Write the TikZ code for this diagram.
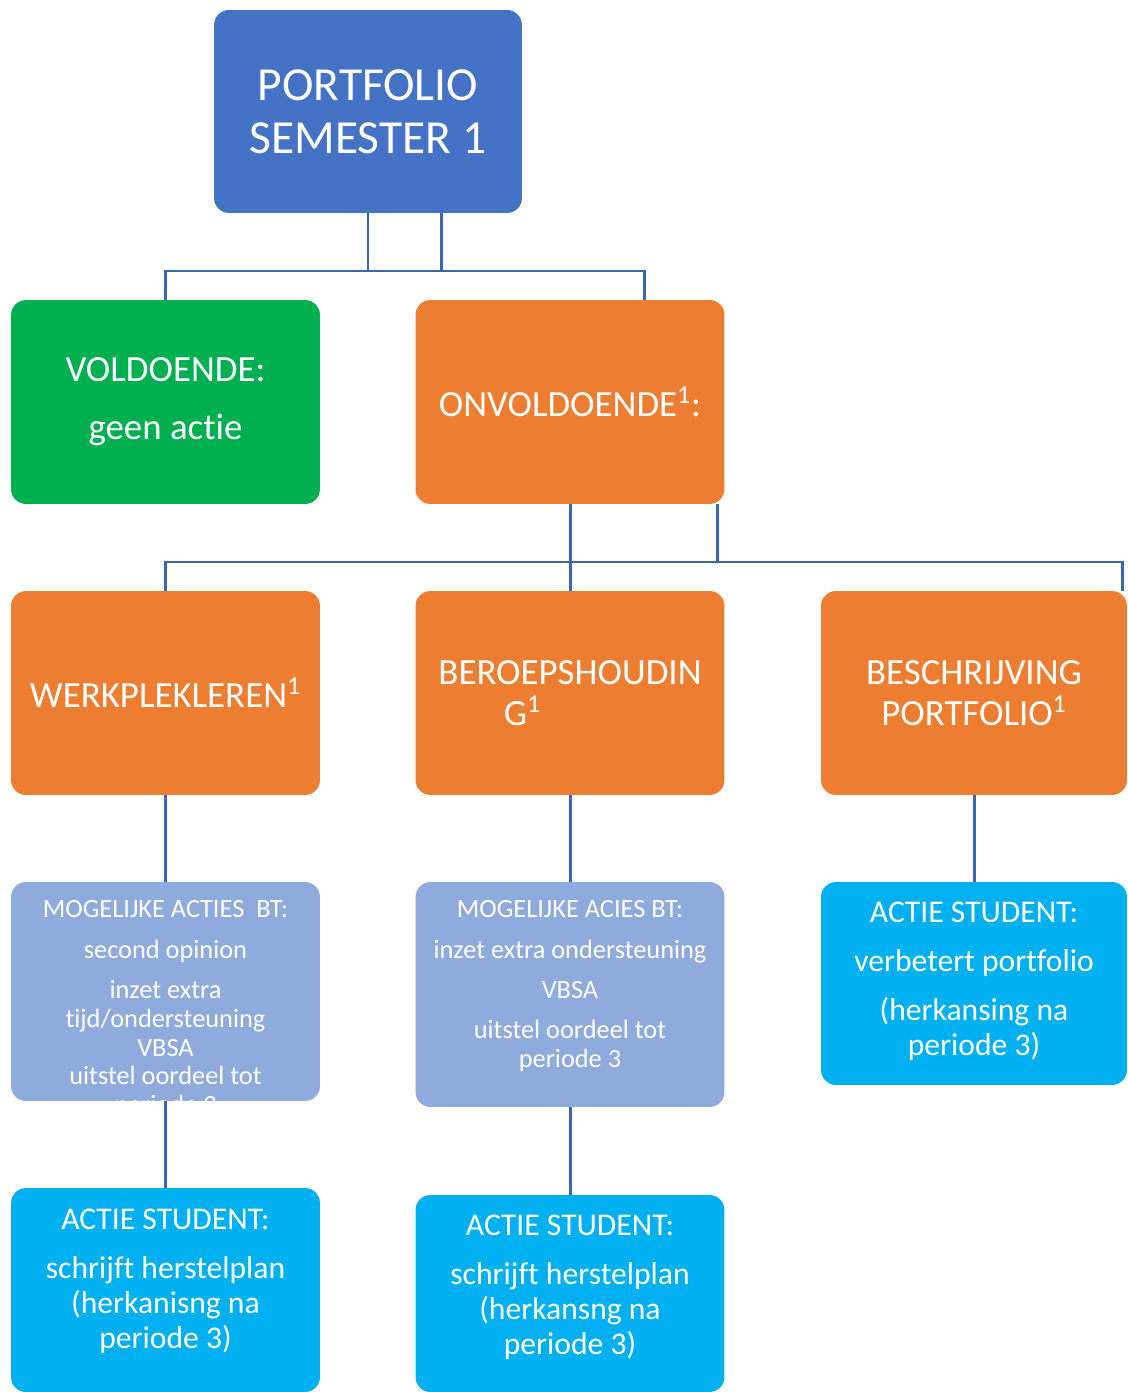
\documentclass[tikz,border=0pt]{standalone}
\usepackage{fontspec}
\setmainfont{Carlito}[Ligatures=NoCommon]

\definecolor{boxblue}{HTML}{4472C4}
\definecolor{boxgreen}{HTML}{00B050}
\definecolor{boxorange}{HTML}{ED7D31}
\definecolor{boxlilac}{HTML}{8FAADC}
\definecolor{boxcyan}{HTML}{00B0F0}
\definecolor{linkblue}{HTML}{3D64AE}

\newcommand{\sizetop}{\fontsize{27}{30}\selectfont}
\newcommand{\sizemid}{\fontsize{21}{23.2}\selectfont}
\newcommand{\sizeact}{\fontsize{18}{19.8}\selectfont}
\newcommand{\sizebt}{\fontsize{15}{16.4}\selectfont}

\tikzset{
  box/.style={rectangle, rounded corners=0.3cm, text=white, align=center,
    minimum width=6.18cm, minimum height=4.08cm, inner sep=0pt},
  boxtext/.style={text=white, align=center, inner sep=0pt, anchor=north},
  link/.style={draw=linkblue, line width=1.7pt}
}

\begin{document}
\begin{tikzpicture}[x=0.02cm, y=-0.02cm]
  \useasboundingbox (0,0) rectangle (1128,1392);
  % first level
  \node[box, fill=boxblue, font=\sizetop, minimum width=6.16cm, minimum height=4.06cm] (portfolio)
    at (368,111.5) {PORTFOLIO\\SEMESTER 1};
  \node[box, fill=boxgreen, font=\fontsize{21}{33}\selectfont] (voldoende) at (165.5,402)
    {VOLDOENDE:\\geen actie};
  \node[box, fill=boxorange, font=\sizemid] (onvoldoende) at (570,402)
    {ONVOLDOENDE\textsuperscript{1}:};
  % second level
  \node[box, fill=boxorange, font=\sizemid] (werkplek) at (165.5,693)
    {WERKPLEKLEREN\textsuperscript{1}};
  \node[box, fill=boxorange, font=\sizemid] (beroeps) at (570,693)
    {BEROEPSHOUDIN\\G\textsuperscript{1}\hspace*{54pt}};
  \node[box, fill=boxorange, font=\sizemid, minimum width=6.12cm] (beschrijving) at (974,693)
    {BESCHRIJVING\\PORTFOLIO\textsuperscript{1}};
  % acties
  \node[box, fill=boxlilac, minimum height=4.38cm] (acties1) at (165.5,991.5) {};
  \node[box, fill=boxlilac, minimum height=4.5cm] (acties2) at (570,994.5) {};
  \node[box, fill=boxcyan, minimum width=6.12cm, minimum height=4.06cm] (actie3) at (974,983.5) {};
  \node[box, fill=boxcyan] (actie1) at (165.5,1290) {};
  \node[box, fill=boxcyan, minimum height=3.94cm] (actie2) at (570,1293.5) {};
  \node[boxtext, font=\sizebt] (acties1-t) at (165.5,900.5)
    {MOGELIJKE ACTIES\ \ BT:\\[6.5pt]second opinion\\[6.5pt]inzet extra\\
     tijd/ondersteuning\\VBSA\\uitstel oordeel tot\\periode 3};
  \node[boxtext, font=\sizebt] (acties2-t) at (570,900.5)
    {MOGELIJKE ACIES BT:\\[6.5pt]inzet extra ondersteuning\\[6.3pt]VBSA\\[6.5pt]
     uitstel oordeel tot\\periode 3};
  \node[boxtext, font=\sizeact] (actie3-t) at (974,901.8)
    {ACTIE STUDENT:\\[8pt]verbetert portfolio\\[8pt](herkansing na\\periode 3)};
  \node[boxtext, font=\sizeact] (actie1-t) at (165.5,1208.8)
    {ACTIE STUDENT:\\[8pt]schrijft herstelplan\\(herkanisng na\\periode 3)};
  \node[boxtext, font=\sizeact] (actie2-t) at (570,1214.8)
    {ACTIE STUDENT:\\[8pt]schrijft herstelplan\\(herkansng na\\periode 3)};
  \begin{scope}[link]
    \coordinate (t1) at (368,271);
    \coordinate (t2) at (441,271);
    \coordinate (t3) at (644,271);
    \coordinate (m1) at (570,562);
    \coordinate (m2) at (717,562);
    \coordinate (m3) at (1122,562);
    \draw (t1 |- portfolio.south) -- (t1);
    \draw (t2 |- portfolio.south) -- (t2);
    \draw (voldoende.north) |- (t3) -- (t3 |- onvoldoende.north);
    \draw (onvoldoende.south) -- (beroeps.north);
    \draw (m2 |- onvoldoende.south) -- (m2);
    \draw (werkplek.north) |- (m3) -- (m3 |- beschrijving.north);
    \draw (werkplek.south) -- (acties1.north);
    \draw (beroeps.south) -- (acties2.north);
    \draw (beschrijving.south) -- (actie3.north);
    \draw (acties1.south) -- (actie1.north);
    \draw (acties2.south) -- (actie2.north);
  \end{scope}
\end{tikzpicture}
\end{document}
